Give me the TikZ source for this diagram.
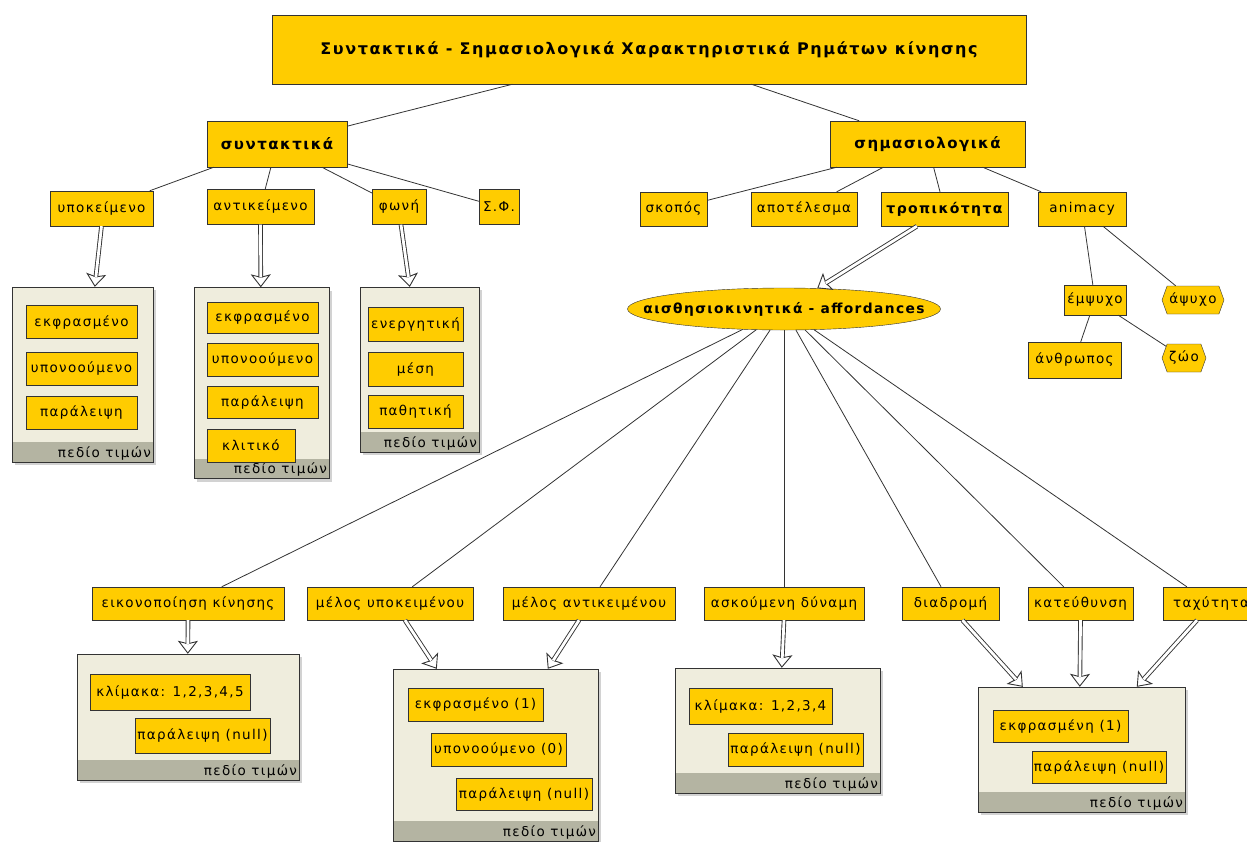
\documentclass[tikz,border=0pt]{standalone}
\usepackage{fontspec}
\setmainfont{DejaVu Sans}[LetterSpace=10]
\usepackage{tikz}
\usetikzlibrary{shapes,shapes.symbols,arrows.meta,shadows,calc,positioning}
\definecolor{conceptyellow}{HTML}{FFCC00}
\definecolor{panelcream}{HTML}{EFEDDD}
\definecolor{panelstrip}{HTML}{B4B4A2}
\definecolor{edgegray}{HTML}{333333}
\tikzstyle{concept} = [
	draw = edgegray,
	fill = conceptyellow,
	rectangle,
	inner sep = 0pt,
	font = \fontsize{13.5}{16}\selectfont
]
\tikzstyle{bigconcept} = [concept, font = \fontsize{15}{18}\selectfont\bfseries]
\tikzstyle{token} = [
	concept,
	signal,
	signal to = west and east,
	signal pointer angle = 140
]
\tikzstyle{valbox} = [
	draw = edgegray,
	fill = panelcream,
	rectangle,
	drop shadow = {shadow xshift=3pt, shadow yshift=-3pt, fill=black!35, opacity=0.5},
	path picture = {\fill[panelstrip] ([yshift=20pt]path picture bounding box.south west) rectangle (path picture bounding box.south east);},
	label = {[anchor=south east, inner sep=2pt, font=\fontsize{13.5}{16}\selectfont]south east:πεδίο τιμών}
]
\tikzstyle{link} = [draw = edgegray, line width = 0.8pt]
\tikzstyle{valtip} = [draw = edgegray, line width = 0.9pt, -{Stealth[open, fill=white, length=13pt, width=20pt, inset=2.5pt]}]
\tikzstyle{valshaft} = [draw = edgegray, line width = 0.9pt, double = white, double distance = 2.8pt, shorten > = 10pt]
\newcommand{\valarrow}[2]{
	\draw[valtip] #1 -- #2;
	\draw[valshaft] #1 -- #2;
}

\begin{document}
\begin{tikzpicture}[x=1pt, y=-1pt]
	\useasboundingbox (0,0) rectangle (1247,841);
	
	\node [bigconcept, minimum width=754pt, minimum height=69pt, font=\fontsize{16}{19}\selectfont\bfseries] (title) at (649,49.5) {Συντακτικά - Σημασιολογικά Χαρακτηριστικά Ρημάτων κίνησης};
	\node [bigconcept, minimum width=140pt, minimum height=46pt] (synt) at (277,144) {συντακτικά};
	\node [bigconcept, minimum width=195pt, minimum height=46pt] (sem) at (927.5,144) {σημασιολογικά};
	
	\node [concept, minimum width=103pt, minimum height=35pt] (subj) at (101.5,208.5) {υποκείμενο};
	\node [concept, minimum width=107pt, minimum height=35pt] (obj) at (260.5,207) {αντικείμενο};
	\node [concept, minimum width=54pt, minimum height=35pt] (voice) at (399,207) {φωνή};
	\node [concept, minimum width=40pt, minimum height=35pt] (sf) at (499,207) {Σ.Φ.};
	\node [concept, minimum width=67pt, minimum height=34pt] (purpose) at (673.5,209) {σκοπός};
	\node [concept, minimum width=106pt, minimum height=34pt] (result) at (804,209) {αποτέλεσμα};
	\node [bigconcept, minimum width=127pt, minimum height=34pt, font=\fontsize{14}{17}\selectfont\bfseries] (modal) at (944.5,209) {τροπικότητα};
	\node [concept, minimum width=88pt, minimum height=34pt] (anim) at (1082,209) {animacy};
	
	\node [concept, ellipse, inner xsep=-45pt, minimum width=313pt, minimum height=42pt, font=\fontsize{13.8}{16}\selectfont\bfseries] (aff) at (784,309) {αισθησιοκινητικά - affordances};
	\node [concept, minimum width=62pt, minimum height=30pt] (animate) at (1095,300) {έμψυχο};
	\node [token, minimum width=62pt, minimum height=28pt] (inanimate) at (1193,300) {άψυχο};
	\node [concept, minimum width=93pt, minimum height=36pt] (human) at (1074.5,360) {άνθρωπος};
	\node [token, minimum width=44pt, minimum height=28pt] (beast) at (1184,358) {ζώο};
	
	% value panels
	\node [valbox, minimum width=141pt, minimum height=175pt] (subjvals) at (82.5,374.5) {};
	\node [concept, minimum width=111pt, minimum height=33pt] (subjv1) at (81.5,322) {εκφρασμένο};
	\node [concept, minimum width=111pt, minimum height=33pt] (subjv2) at (81.5,368.5) {υπονοούμενο};
	\node [concept, minimum width=111pt, minimum height=33pt] (subjv3) at (81.5,412.5) {παράλειψη};
	
	\node [valbox, minimum width=135pt, minimum height=191pt] (objvals) at (261.5,383) {};
	\node [concept, minimum width=111pt, minimum height=31pt] (objv1) at (262.5,317.5) {εκφρασμένο};
	\node [concept, minimum width=111pt, minimum height=33pt] (objv2) at (262.5,359.5) {υπονοούμενο};
	\node [concept, minimum width=111pt, minimum height=32pt] (objv3) at (262.5,402) {παράλειψη};
	\node [concept, minimum width=88pt, minimum height=33pt] (objv4) at (251,445.5) {κλιτικό};
	
	\node [valbox, minimum width=119pt, minimum height=165pt] (voicevals) at (419.5,369.5) {};
	\node [concept, minimum width=95pt, minimum height=34pt] (voicev1) at (415.5,324) {ενεργητική};
	\node [concept, minimum width=95pt, minimum height=34pt] (voicev2) at (415.5,369) {μέση};
	\node [concept, minimum width=95pt, minimum height=33pt] (voicev3) at (415.5,411.5) {παθητική};
	
	\node [concept, minimum width=192pt, minimum height=33pt] (icon) at (188,603.5) {εικονοποίηση κίνησης};
	\node [concept, minimum width=166pt, minimum height=33pt] (subjpart) at (390,603.5) {μέλος υποκειμένου};
	\node [concept, minimum width=172pt, minimum height=33pt] (objpart) at (589,603.5) {μέλος αντικειμένου};
	\node [concept, minimum width=160pt, minimum height=33pt] (force) at (784,603.5) {ασκούμενη δύναμη};
	\node [concept, minimum width=97pt, minimum height=33pt] (route) at (950.5,603.5) {διαδρομή};
	\node [concept, minimum width=105pt, minimum height=33pt] (direction) at (1080.5,603.5) {κατεύθυνση};
	\node [concept, minimum width=96pt, minimum height=33pt] (speed) at (1211,603.5) {ταχύτητα};
	
	\node [valbox, minimum width=222pt, minimum height=126pt] (iconvals) at (188,717) {};
	\node [concept, minimum width=160pt, minimum height=36pt] (iconv1) at (170,692) {κλίμακα: 1,2,3,4,5};
	\node [concept, minimum width=135pt, minimum height=35pt] (iconv2) at (202.5,735.5) {παράλειψη (null)};
	
	\node [valbox, minimum width=205pt, minimum height=172pt] (partvals) at (495.5,755) {};
	\node [concept, minimum width=135pt, minimum height=33pt] (partv1) at (475.5,704.5) {εκφρασμένο (1)};
	\node [concept, minimum width=135pt, minimum height=33pt] (partv2) at (498.5,749.5) {υπονοούμενο (0)};
	\node [concept, minimum width=136pt, minimum height=32pt] (partv3) at (524,794) {παράλειψη (null)};
	
	\node [valbox, minimum width=205pt, minimum height=125pt] (forcevals) at (777.5,730.5) {};
	\node [concept, minimum width=143pt, minimum height=36pt] (forcev1) at (760.5,706) {κλίμακα: 1,2,3,4};
	\node [concept, minimum width=135pt, minimum height=33pt] (forcev2) at (795.5,749.5) {παράλειψη (null)};
	
	\node [valbox, minimum width=207pt, minimum height=125pt] (motionvals) at (1081.5,749.5) {};
	\node [concept, minimum width=135pt, minimum height=32pt] (motionv1) at (1060.5,726) {εκφρασμένη (1)};
	\node [concept, minimum width=134pt, minimum height=32pt] (motionv2) at (1099,767) {παράλειψη (null)};
	
	% hierarchy
	\draw[link] (title) -- (synt);
	\draw[link] (title) -- (sem);
	\foreach \n in {subj, obj, voice, sf}
		\draw[link] (synt) -- (\n);
	\foreach \n in {purpose, result, modal, anim}
		\draw[link] (sem) -- (\n);
	\draw[link] (anim) -- (animate);
	\draw[link] (anim) -- (inanimate);
	\draw[link] (animate) -- (human);
	\draw[link] (animate) -- (beast);
	\foreach \n in {icon, subjpart, objpart, force, route, direction, speed}
		\draw[link] (aff) -- (\n);
	
	% value domains
	\valarrow{(modal)}{(aff)}
	\valarrow{(subj.south)}{($(subjvals.north west)+(83,0)$)}
	\valarrow{(obj.south)}{($(objvals.north west)+(67,0)$)}
	\valarrow{($(voice.south)+(2,0)$)}{($(voicevals.north west)+(50,0)$)}
	\valarrow{(icon.south)}{($(iconvals.north west)+(111,0)$)}
	\valarrow{($(subjpart.south)+(15,0)$)}{($(partvals.north west)+(44,0)$)}
	\valarrow{($(objpart.south)+(-10,0)$)}{($(partvals.north west)+(155,0)$)}
	\valarrow{(force.south)}{($(forcevals.north west)+(107,0)$)}
	\valarrow{($(route.south)+(12,0)$)}{($(motionvals.north west)+(45,0)$)}
	\valarrow{(direction.south)}{($(motionvals.north west)+(102,0)$)}
	\valarrow{($(speed.south)+(-14,0)$)}{($(motionvals.north west)+(159,0)$)}
\end{tikzpicture}
\end{document}
